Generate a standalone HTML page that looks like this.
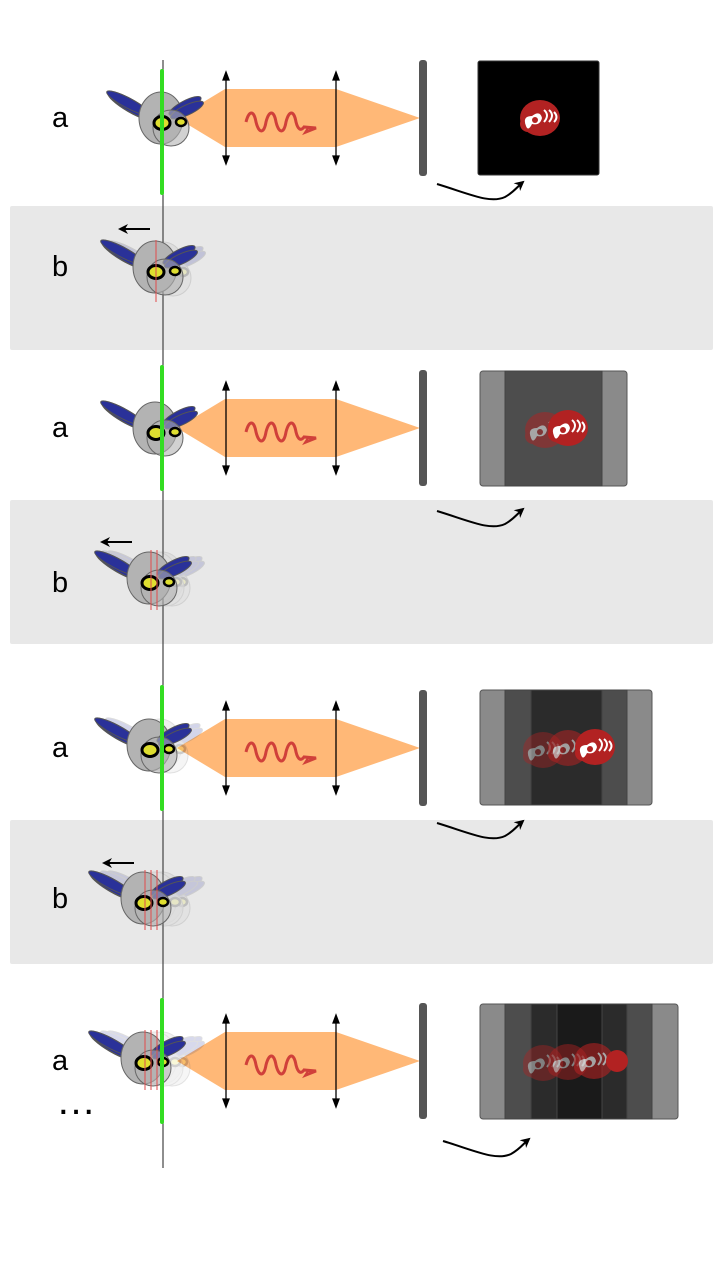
<!DOCTYPE html>
<html><head><meta charset="utf-8"><style>
body{margin:0;background:#fff;width:720px;height:1280px;overflow:hidden}
svg{display:block}
text{font-family:"Liberation Sans","DejaVu Sans",sans-serif}
</style></head><body>
<svg width="720" height="1280" viewBox="0 0 720 1280" xmlns="http://www.w3.org/2000/svg">
<defs>
<symbol id="fish" overflow="visible">
  <g>
    <ellipse cx="-30" cy="-12" rx="26" ry="6" transform="rotate(30 -30 -12)" fill="#2a3199" stroke="#555" stroke-width="1.5"/>
    <ellipse cx="-33" cy="-15" rx="24" ry="5" transform="rotate(28 -33 -15)" fill="#2a3199" stroke="#555" stroke-width="1"/>
    <ellipse cx="0" cy="0" rx="22" ry="26" fill="#b3b3b3" stroke="#666" stroke-width="1"/>
    <ellipse cx="24" cy="-12" rx="18" ry="5" transform="rotate(-28 24 -12)" fill="#2a3199" stroke="#555" stroke-width="1"/>
    <ellipse cx="26" cy="-8" rx="18" ry="5" transform="rotate(-25 26 -8)" fill="#2a3199" stroke="#555" stroke-width="1"/>
    <circle cx="10" cy="10" r="18" fill="#b3b3b3" fill-opacity="0.6" stroke="#666" stroke-width="1"/>
    <ellipse cx="1" cy="5" rx="8" ry="6.5" fill="#dede30" stroke="#000" stroke-width="3"/>
    <ellipse cx="20" cy="4" rx="5" ry="4" fill="#dede30" stroke="#000" stroke-width="2.5"/>
  </g>
</symbol>
<symbol id="beam" overflow="visible">
  <polygon points="15,0 63,-29 174,-29 258,0 174,29 63,29" fill="#ffb877"/>
  <path d="M84,4 c3,-12 8,-12 10,0 c3,12 8,12 10,0 c3,-12 8,-12 10,0 c3,12 8,12 10,0 c3,-12 8,-12 10,0 c2,8 5,9 8,5 l12,1 -10,4 2,-3" fill="none" stroke="#d0403a" stroke-width="3"/>
  <g stroke="#000" stroke-width="1.3" fill="#000">
    <line x1="64" y1="-42" x2="64" y2="42"/><polygon points="64,-46 61,-38 67,-38"/><polygon points="64,46 61,38 67,38"/>
    <line x1="174" y1="-42" x2="174" y2="42"/><polygon points="174,-46 171,-38 177,-38"/><polygon points="174,46 171,38 177,38"/>
  </g>
  <rect x="257" y="-58" width="8" height="116" rx="3" fill="#555"/>
</symbol>
<symbol id="emb" overflow="visible">
  <ellipse cx="0" cy="0" rx="20" ry="18" fill="#b22222"/>
  <circle cx="-12" cy="6" r="8" fill="#b22222"/>
  <path d="M-14,8 q-4,-10 6,-10 q8,-6 10,2 q-2,8 -10,6 q-4,8 -6,2z" fill="#fff"/>
  <circle cx="-5" cy="2" r="3" fill="#b22222"/>
  <path d="M4,-8 q6,5 0,12 M9,-8 q6,5 0,12 M14,-6 q5,5 0,10" stroke="#fff" stroke-width="2" fill="none"/>
</symbol>
<marker id="ah" markerWidth="10" markerHeight="10" refX="8" refY="5" orient="auto" markerUnits="userSpaceOnUse"><path d="M0,0 L10,5 L0,10 L3,5z" fill="#000"/></marker>
</defs>

<rect x="10" y="206" width="703" height="144" rx="2" fill="#e8e8e8"/>
<rect x="10" y="500" width="703" height="144" rx="2" fill="#e8e8e8"/>
<rect x="10" y="820" width="703" height="144" rx="2" fill="#e8e8e8"/>

<line x1="163" y1="60" x2="163" y2="1168" stroke="#444" stroke-width="1.2"/>

<g font-size="29" fill="#000">
<text x="52" y="127">a</text><text x="52" y="276">b</text>
<text x="52" y="437">a</text><text x="52" y="592">b</text>
<text x="52" y="757">a</text><text x="52" y="908">b</text>
<text x="52" y="1070">a</text>
</g>
<text x="56" y="1114" font-size="40" fill="#000">…</text>

<use href="#beam" x="162" y="118"/>
<use href="#beam" x="162" y="428"/>
<use href="#beam" x="162" y="748"/>
<use href="#beam" x="162" y="1061"/>

<use href="#fish" x="161" y="118"/>
<g opacity="0.2"><use href="#fish" x="163" y="268"/></g>
<use href="#fish" x="155" y="267"/>
<use href="#fish" x="155" y="428"/>
<g opacity="0.18"><use href="#fish" x="162" y="578"/><use href="#fish" x="156" y="578"/></g>
<use href="#fish" x="149" y="578"/>
<g opacity="0.2"><use href="#fish" x="160" y="745"/></g>
<use href="#fish" x="149" y="745"/>
<g opacity="0.18"><use href="#fish" x="162" y="898"/><use href="#fish" x="155" y="898"/></g>
<use href="#fish" x="143" y="898"/>
<g opacity="0.18"><use href="#fish" x="162" y="1058"/><use href="#fish" x="155" y="1058"/></g>
<use href="#fish" x="143" y="1058"/>

<g stroke="#e05050" stroke-width="1.3" opacity="0.8">
<line x1="156" y1="240" x2="156" y2="302"/>
<line x1="151" y1="550" x2="151" y2="610"/><line x1="157" y1="550" x2="157" y2="610"/>
<line x1="145" y1="870" x2="145" y2="930"/><line x1="151" y1="870" x2="151" y2="930"/><line x1="157" y1="870" x2="157" y2="930"/>
<line x1="145" y1="1030" x2="145" y2="1090"/><line x1="151" y1="1030" x2="151" y2="1090"/><line x1="157" y1="1030" x2="157" y2="1090"/>
</g>

<g stroke="#33dd22" stroke-width="4" stroke-linecap="round">
<line x1="162" y1="71" x2="162" y2="193"/>
<line x1="162" y1="367" x2="162" y2="489"/>
<line x1="162" y1="687" x2="162" y2="809"/>
<line x1="162" y1="1000" x2="162" y2="1122"/>
</g>

<g stroke="#000" stroke-width="2" marker-end="url(#ah)">
<line x1="150" y1="229" x2="120" y2="229"/>
<line x1="132" y1="542" x2="102" y2="542"/>
<line x1="134" y1="863" x2="104" y2="863"/>
</g>

<g fill="none" stroke="#000" stroke-width="2" marker-end="url(#ah)">
<path d="M437,184 C470,194 490,204 505,197 C514,192 517,187 523,182"/>
<path d="M437,511 C470,521 490,531 505,524 C514,519 517,514 523,509"/>
<path d="M437,823 C470,833 490,843 505,836 C514,831 517,826 523,821"/>
<path d="M443,1141 C476,1151 496,1161 511,1154 C520,1149 523,1144 529,1139"/>
</g>

<rect x="478" y="61" width="121" height="114" rx="2" fill="#000" stroke="#333"/>
<use href="#emb" x="540" y="118"/>

<rect x="480" y="371" width="147" height="115" rx="3" fill="#8a8a8a" stroke="#555"/>
<rect x="505" y="371" width="97" height="115" fill="#4d4d4d" stroke="#444"/>
<g opacity="0.5"><use href="#emb" x="545" y="430"/></g>
<use href="#emb" x="568" y="428"/>

<rect x="480" y="690" width="172" height="115" rx="3" fill="#8a8a8a" stroke="#555"/>
<rect x="505" y="690" width="122" height="115" fill="#4d4d4d" stroke="#444"/>
<rect x="531" y="690" width="71" height="115" fill="#2b2b2b" stroke="#444"/>
<g opacity="0.4"><use href="#emb" x="543" y="750"/></g>
<g opacity="0.55"><use href="#emb" x="568" y="748"/></g>
<use href="#emb" x="595" y="747"/>

<rect x="480" y="1004" width="198" height="115" rx="3" fill="#8a8a8a" stroke="#555"/>
<rect x="505" y="1004" width="147" height="115" fill="#4d4d4d" stroke="#444"/>
<rect x="531" y="1004" width="96" height="115" fill="#2b2b2b" stroke="#444"/>
<rect x="557" y="1004" width="45" height="115" fill="#1a1a1a" stroke="#444"/>
<g opacity="0.4"><use href="#emb" x="543" y="1063"/></g>
<g opacity="0.45"><use href="#emb" x="568" y="1062"/></g>
<g opacity="0.6"><use href="#emb" x="594" y="1061"/></g>
<circle cx="617" cy="1061" r="11" fill="#b22222"/>
</svg>
</body></html>
